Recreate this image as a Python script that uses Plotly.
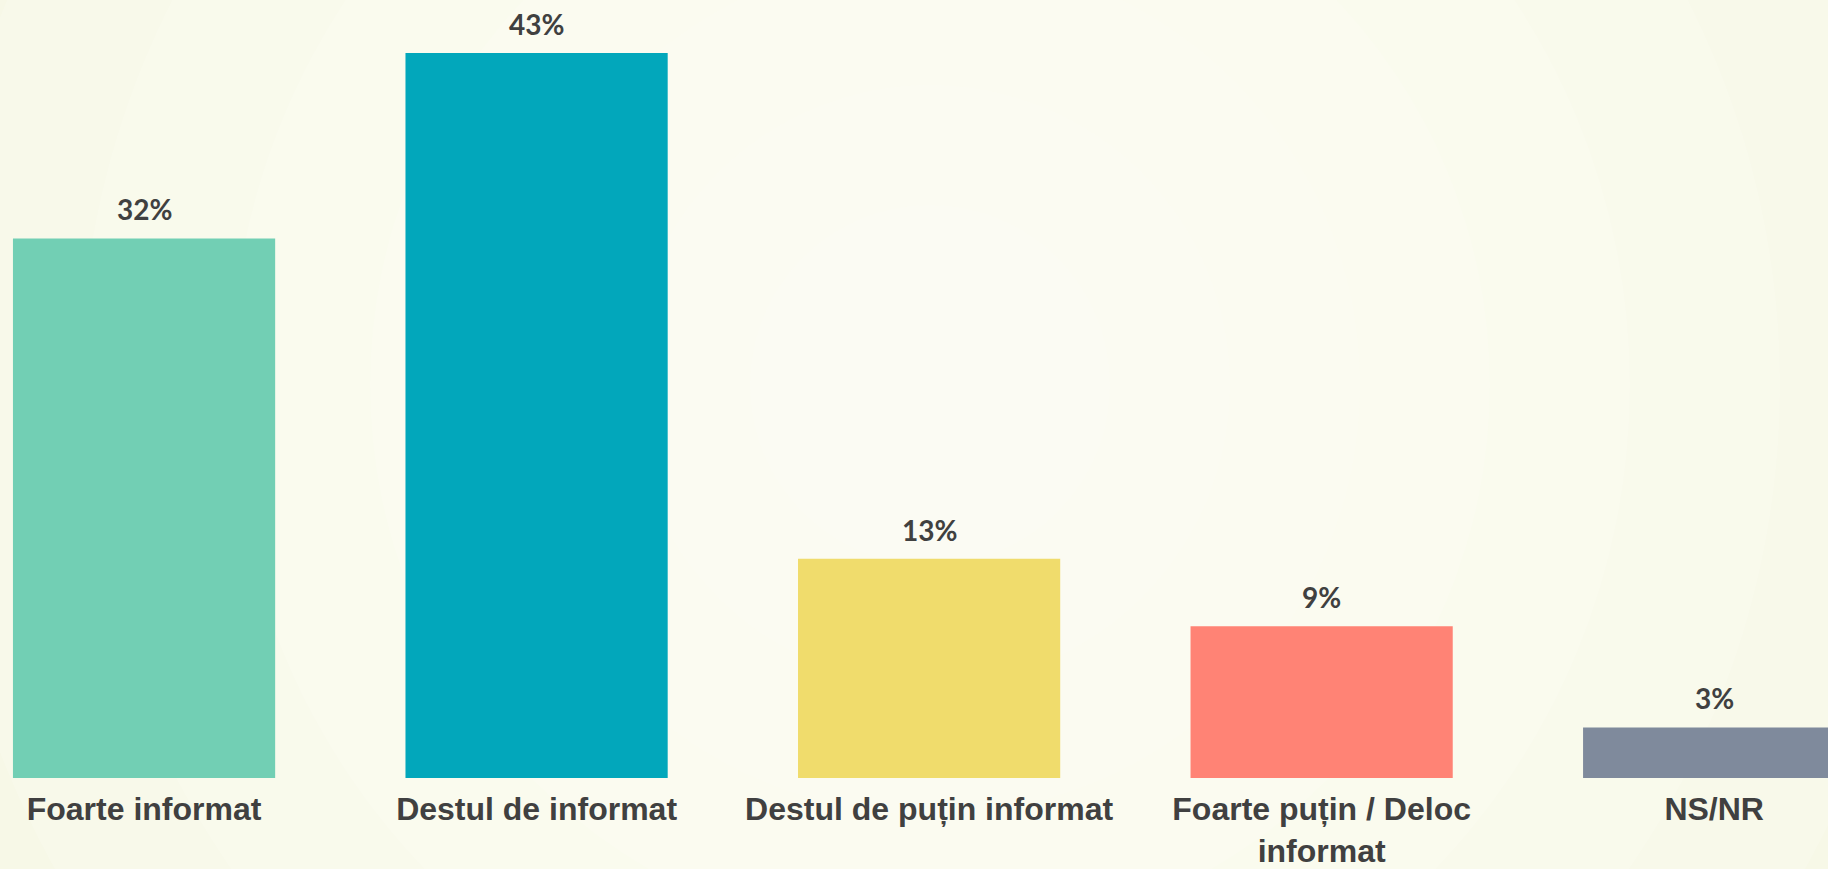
import plotly.graph_objects as go

categories = ["Foarte informat", "Destul de informat", "Destul de puțin informat",
              "Foarte puțin / Deloc<br>informat", "NS/NR"]
values = [32, 43, 13, 9, 3]
value_labels = ["32%", "43%", "13%", "9%", "3%"]
colors = ["#72CFB4", "#02A7BB", "#F0DC6C", "#FF8375", "#7F8A9C"]

W, H = 1828, 869
plot_bottom = 91
plot_h = H - plot_bottom

fig = go.Figure()
fig.add_trace(go.Bar(
    x=list(range(len(categories))), y=values,
    marker=dict(color=colors, line=dict(width=0)),
    width=0.668, hoverinfo="skip", showlegend=False,
))

for i, (v, t) in enumerate(zip(values, value_labels)):
    fig.add_annotation(x=i, y=v, text=f"<b>{t}</b>", showarrow=False,
                       xanchor="center", yanchor="bottom", yshift=10,
                       font=dict(family="Lato", size=28, color="#404040"))

# subtle radial glow in background
cx, cy = 930, 385
for k, r in enumerate([1000, 850, 700, 560, 430, 300, 180]):
    fig.add_shape(type="circle", xref="paper", yref="paper", layer="below",
                  x0=(cx - r) / W, x1=(cx + r) / W,
                  y0=(plot_h - (cy + r)) / plot_h, y1=(plot_h - (cy - r)) / plot_h,
                  fillcolor="rgba(255,255,250,0.18)", line=dict(width=0))

fig.update_layout(
    width=W, height=H,
    margin=dict(l=0, r=0, t=0, b=plot_bottom, autoexpand=False),
    paper_bgcolor="#F7F8E7", plot_bgcolor="rgba(0,0,0,0)",
    bargap=0.332,
    xaxis=dict(range=[-0.367, 4.29], tickmode="array",
               tickvals=list(range(len(categories))),
               ticktext=[f"<b>{c}</b>" for c in categories],
               tickfont=dict(family="Arial", size=32, color="#404040"),
               showgrid=False, zeroline=False, showline=False, ticks="",
               ticklabelstandoff=9, automargin=False, fixedrange=True),
    yaxis=dict(range=[0, plot_h / 16.86], visible=False, showgrid=False,
               zeroline=False, automargin=False, fixedrange=True),
)

fig.write_html(
    "out.html",
    config={"displayModeBar": False},
    post_script="document.body.style.margin='0';document.body.style.overflow='hidden';"
                "document.body.style.background='#F7F8E7';",
)
